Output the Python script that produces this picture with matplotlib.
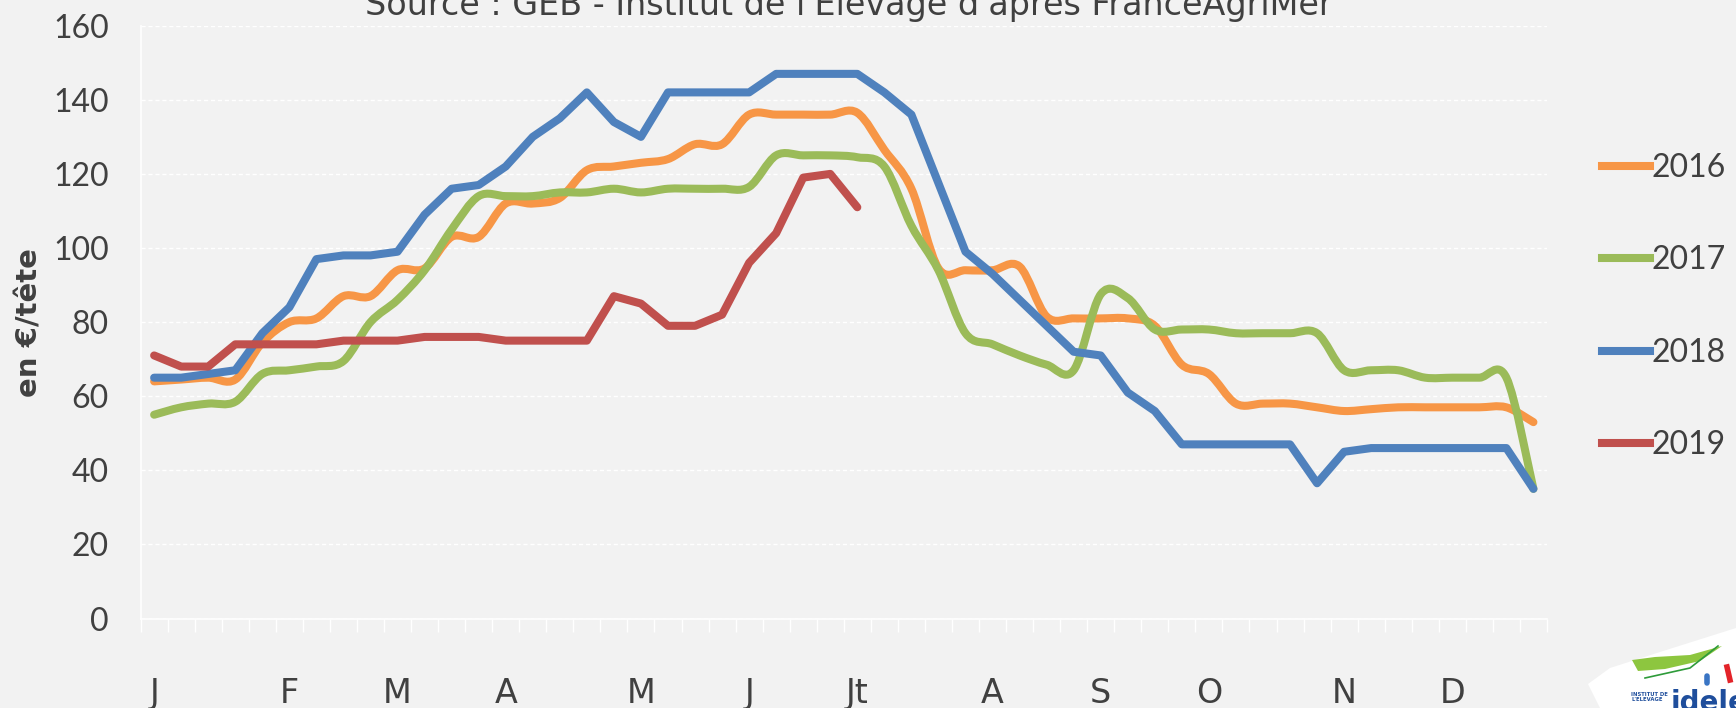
import numpy as np
import matplotlib
matplotlib.use("Agg")
import matplotlib.pyplot as plt
from matplotlib import font_manager
from matplotlib.path import Path
from matplotlib.patches import PathPatch, Polygon
from matplotlib.lines import Line2D

# weekly prices (€/tête), 52 weeks
weeks = np.arange(52)
month_pos = [0, 5, 9, 13, 18, 22, 26, 31, 35, 39, 44, 48]
month_labels = ['J', 'F', 'M', 'A', 'M', 'J', 'Jt', 'A', 'S', 'O', 'N', 'D']

prix_2016 = [64, 64.5, 65, 64.5, 74.5, 80, 81, 87, 87, 94,
             94.5, 103, 103, 112, 112, 113.5, 121, 122, 123, 124,
             128, 128, 136, 136, 136, 136, 136.5, 126.5, 116, 94.5,
             94, 94, 95, 81.5, 81, 81, 81, 79, 68.5, 66,
             58, 58, 58, 57, 56, 56.5, 57, 57, 57, 57,
             57, 53]
prix_2017 = [55, 57, 58, 58.5, 66, 67, 68, 69.5, 80, 86,
             94, 105, 114, 114, 114, 115, 115, 116, 115, 116,
             116, 116, 116.5, 125, 125, 125, 124.5, 122, 106, 94,
             77, 74, 71, 68.5, 67, 87.5, 86.5, 78, 78, 78,
             77, 77, 77, 77, 67, 67, 67, 65, 65, 65,
             65, 35]
prix_2018 = [65, 65, 66, 67, 77, 84, 97, 98, 98, 99,
             109, 116, 117, 122, 130, 135, 142, 134, 130, 142,
             142, 142, 142, 147, 147, 147, 147, 142, 136, 117.5,
             99, 93, 86, 79, 72, 71, 61, 56, 47, 47,
             47, 47, 47, 36.5, 45, 46, 46, 46, 46, 46,
             46, 35]
prix_2019 = [71, 68, 68, 74, 74, 74, 74, 75, 75, 75,
             76, 76, 76, 75, 75, 75, 75, 87, 85, 79,
             79, 82, 96, 104, 119, 120, 111]

years = ['2016', '2017', '2018', '2019']
colors = ['#F79646', '#9BBB59', '#4F81BD', '#C0504D']
smoothed = [True, True, False, False]

names = {f.name for f in font_manager.fontManager.ttflist}
narrow = 'Liberation Sans Narrow' if 'Liberation Sans Narrow' in names else 'DejaVu Sans'
num_font = 'Lato' if 'Lato' in names else 'DejaVu Sans'
grey = '#404040'
bg = '#F2F2F2'


def smooth_path(x, y):
    # Excel-like smoothed line: cubic Bezier through every point
    pts = np.column_stack([x, y]).astype(float)
    ext = np.vstack([pts[0], pts, pts[-1]])
    verts = [pts[0]]
    codes = [Path.MOVETO]
    for i in range(len(pts) - 1):
        p0, p1, p2, p3 = ext[i], ext[i + 1], ext[i + 2], ext[i + 3]
        verts += [p1 + (p2 - p0) / 6, p2 - (p3 - p1) / 6, p2]
        codes += [Path.CURVE4] * 3
    return Path(verts, codes)


W, H = 1736, 708
fig = plt.figure(figsize=(W / 100, H / 100), dpi=100, facecolor=bg)
ax = fig.add_axes([0.081, 0.1264, 0.8101, 0.8373], facecolor=bg)

series = [prix_2016, prix_2017, prix_2018, prix_2019]
lw = 5.8
for k, vals in enumerate(series):
    x = weeks[:len(vals)]
    if smoothed[k]:
        patch = PathPatch(smooth_path(x, vals), facecolor='none', edgecolor=colors[k],
                          lw=lw, capstyle='round', joinstyle='round', zorder=3 + k)
        ax.add_patch(patch)
    else:
        ax.plot(x, vals, color=colors[k], lw=lw, solid_capstyle='round',
                solid_joinstyle='round', zorder=3 + k)

ax.set_xlim(-0.5, 51.5)
ax.set_ylim(0, 160)
ax.set_yticks(np.arange(0, 161, 20))
ax.grid(axis='y', color='white', linestyle=(0, (3, 2)), lw=1.0, zorder=1)
ax.set_axisbelow(True)

ax.set_xticks(month_pos)
ax.set_xticklabels(month_labels, fontfamily=narrow, fontsize=24, color=grey)
ax.set_xticks(np.arange(-0.5, 52, 1), minor=True)
ax.tick_params(axis='x', which='major', length=0, pad=42)
ax.tick_params(axis='x', which='minor', length=9, color='white', width=1)
ax.tick_params(axis='y', length=0, pad=23, labelsize=23, labelcolor=grey)
for lab in ax.get_yticklabels():
    lab.set_fontfamily(num_font)

for s in ['top', 'right']:
    ax.spines[s].set_visible(False)
for s in ['left', 'bottom']:
    ax.spines[s].set_color('white')
    ax.spines[s].set_linewidth(1.2)

ax.set_ylabel('en €/tête', fontsize=21, fontweight='bold', color=grey, va='center')
ax.yaxis.set_label_coords(-0.079, 0.5)

handles = [Line2D([], [], color=c, lw=lw) for c in colors]
leg = fig.legend(handles, years, loc='center left', bbox_to_anchor=(0.9228, 0.567),
                 frameon=False, handlelength=1.5, handletextpad=0.05,
                 labelspacing=1.95, borderpad=0, borderaxespad=0,
                 prop={'family': num_font, 'size': 23})
for t in leg.get_texts():
    t.set_color(grey)

fig.text(849 / W, 1 - 15 / H, "Source : GEB - Institut de l'Elevage d'après FranceAgriMer",
         ha='center', va='baseline', fontsize=24, fontfamily=narrow, color=grey)


# idele logo (bottom right)
def px(x, y):
    return (x / W, 1 - y / H)


fig.patches.append(Polygon([px(1588, 684), px(1610, 668), px(1660, 652), px(1736, 628),
                            px(1736, 708), px(1600, 708)], closed=True,
                           transform=fig.transFigure, facecolor='white', edgecolor='none'))
fig.patches.append(Polygon([px(1632, 660), px(1655, 657), px(1690, 655), px(1722, 646),
                            px(1700, 661), px(1665, 669), px(1638, 671)], closed=True,
                           transform=fig.transFigure, facecolor='#8DC63F', edgecolor='none'))
fig.lines.append(Line2D([1645 / W, 1690 / W, 1718 / W], [1 - 678 / H, 1 - 668 / H, 1 - 646 / H],
                        transform=fig.transFigure, color='#2E9B3A', lw=1.2))
fig.lines.append(Line2D([1727 / W, 1730 / W], [1 - 667 / H, 1 - 680 / H],
                        transform=fig.transFigure, color='#E32329', lw=4))
fig.lines.append(Line2D([1707 / W, 1707 / W], [1 - 676 / H, 1 - 683 / H],
                        transform=fig.transFigure, color='#3A75C4', lw=4, solid_capstyle='round'))
fig.text(1631 / W, 1 - 697 / H, "INSTITUT DE\nL'ELEVAGE", fontsize=3.8, fontweight='bold',
         color='#1F4E9C', va='center', ha='left', linespacing=1.0)
fig.text(1671 / W, 1 - 711 / H, "idele", fontsize=20, fontweight='bold',
         color='#1F4E9C', va='baseline', ha='left')

fig.savefig('out.png', dpi=100, facecolor=bg)
